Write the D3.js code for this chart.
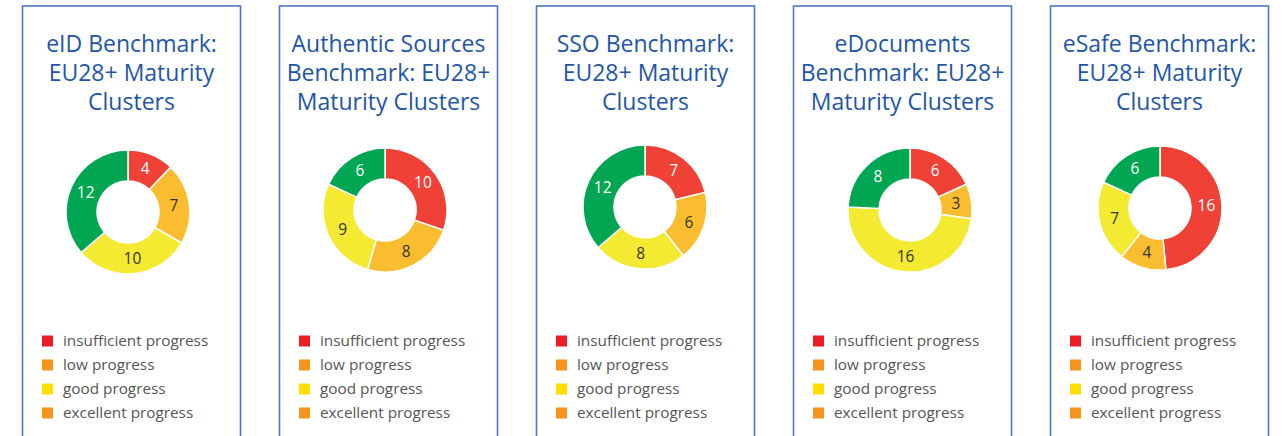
<!DOCTYPE html>
<html>
<head>
<meta charset="utf-8">
<script src="https://cdnjs.cloudflare.com/ajax/libs/d3/7.8.5/d3.min.js"></script>
<style>
  body { margin: 0; background: #fff; }
  svg { display: block; }
</style>
</head>
<body>
<script>
var width = 1284, height = 436;

// chart data
var titles = [
  ["eID Benchmark:", "EU28+ Maturity", "Clusters"],
  ["Authentic Sources", "Benchmark: EU28+", "Maturity Clusters"],
  ["SSO Benchmark:", "EU28+ Maturity", "Clusters"],
  ["eDocuments", "Benchmark: EU28+", "Maturity Clusters"],
  ["eSafe Benchmark:", "EU28+ Maturity", "Clusters"]
];
var categories = ["insufficient progress", "low progress", "good progress", "excellent progress"];
var insufficient = [4, 10, 7, 6, 16];
var low = [7, 8, 6, 3, 4];
var good = [10, 9, 8, 16, 7];
var excellent = [12, 6, 12, 8, 6];

var sliceColors = ["#ef4136", "#fbbd30", "#f4ea32", "#00a651"];
var labelColors = ["#fff", "#333", "#333", "#fff"];
var legendColors = ["#ee1c25", "#f7941d", "#ffde00", "#f7941d"];

// layout
var panelLeft = 22, panelStep = 257, panelW = 218, panelTop = 6;
var donutDx = [-3, -3, 0, 8, 1];
var donutCy = [212, 210, 207, 210, 208];
var outerR = 62, innerR = 31;

var svg = d3.select("body").append("svg")
    .attr("width", width)
    .attr("height", height);

var pie = d3.pie().sort(null).value(function(d){ return d; });
var arc = d3.arc().innerRadius(innerR).outerRadius(outerR);
var labelArc = d3.arc().innerRadius((innerR + outerR) / 2).outerRadius((innerR + outerR) / 2);

titles.forEach(function(t, i){
    var x0 = panelLeft + i * panelStep;
    var g = svg.append("g").attr("transform", "translate(" + x0 + ",0)");

    g.append("rect")
        .attr("x", 0.5).attr("y", panelTop)
        .attr("width", panelW).attr("height", height + 20)
        .attr("fill", "none")
        .attr("stroke", "#4a78c5")
        .attr("stroke-width", 1.6);

    g.append("text")
        .attr("text-anchor", "middle")
        .attr("font-family", "Open Sans, sans-serif")
        .attr("font-size", 23)
        .attr("fill", "#1f56a8")
        .selectAll("tspan")
        .data(t)
        .enter().append("tspan")
        .attr("x", panelW / 2 + 0.5)
        .attr("y", function(d, j){ return 52 + j * 29; })
        .text(function(d){ return d; });

    var vals = [insufficient[i], low[i], good[i], excellent[i]];
    var dg = g.append("g")
        .attr("transform", "translate(" + (panelW / 2 + donutDx[i]) + "," + donutCy[i] + ")");

    var arcs = pie(vals);
    dg.selectAll("path")
        .data(arcs)
        .enter().append("path")
        .attr("d", arc)
        .attr("fill", function(d, j){ return sliceColors[j]; })
        .attr("stroke", "#fff")
        .attr("stroke-width", 1.5);

    dg.selectAll("text")
        .data(arcs)
        .enter().append("text")
        .attr("transform", function(d){ return "translate(" + labelArc.centroid(d) + ")"; })
        .attr("text-anchor", "middle")
        .attr("dy", "0.35em")
        .attr("font-family", "Open Sans, sans-serif")
        .attr("font-size", 15.5)
        .attr("fill", function(d, j){ return labelColors[j]; })
        .text(function(d){ return d.data; });

    var lg = g.append("g").attr("transform", "translate(20,341)");
    var rows = lg.selectAll("g")
        .data(categories)
        .enter().append("g")
        .attr("transform", function(d, j){ return "translate(0," + (j * 24) + ")"; });
    rows.append("rect")
        .attr("x", 0).attr("y", -5.5)
        .attr("width", 11).attr("height", 11)
        .attr("fill", function(d, j){ return legendColors[j]; });
    rows.append("text")
        .attr("x", 21)
        .attr("dy", "0.35em")
        .attr("font-family", "Open Sans, sans-serif")
        .attr("font-size", 15.3)
        .attr("fill", "#555")
        .text(function(d){ return d; });
});
</script>
</body>
</html>
